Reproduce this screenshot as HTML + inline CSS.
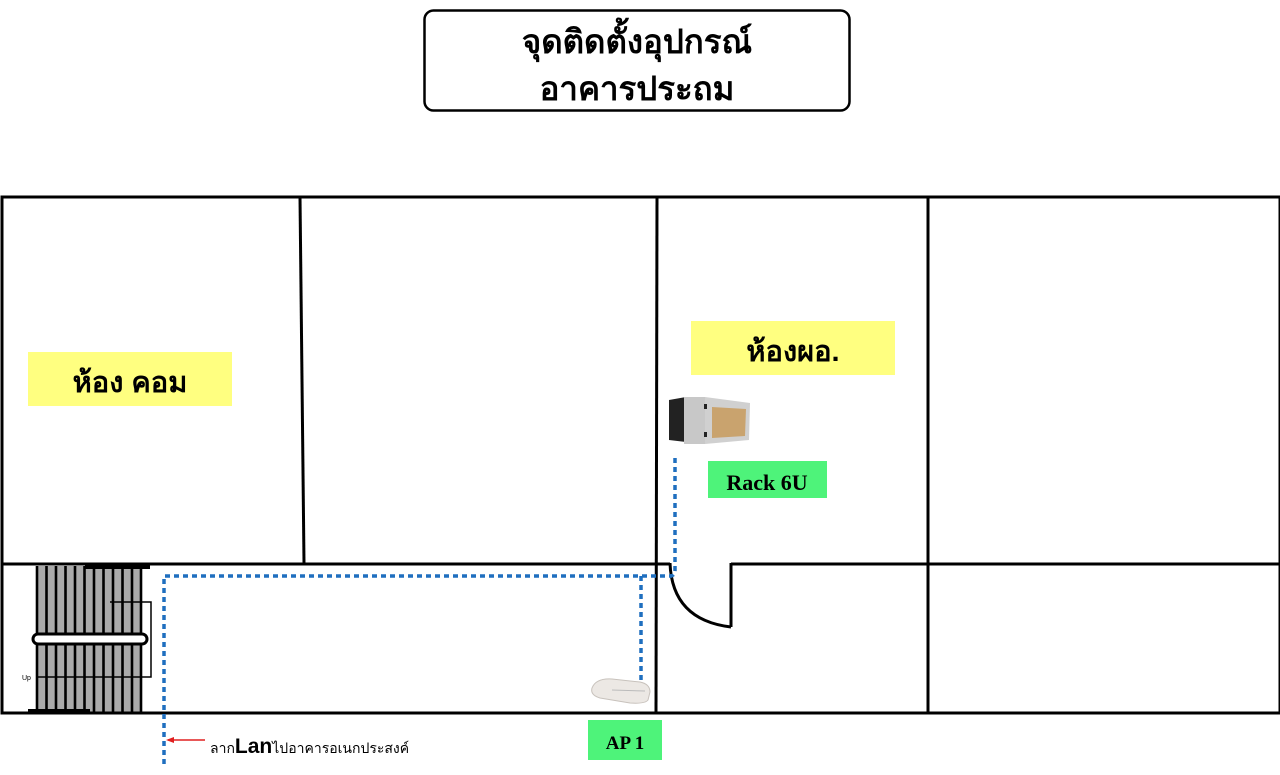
<!DOCTYPE html>
<html><head><meta charset="utf-8"><style>
html,body{margin:0;padding:0;background:#fff;width:1280px;height:775px;overflow:hidden}
svg{display:block}
text{font-family:"Liberation Sans","DejaVu Sans",sans-serif}
</style></head><body>
<svg width="1280" height="775" viewBox="0 0 1280 775" xmlns="http://www.w3.org/2000/svg">
<rect x="424.5" y="10.5" width="425" height="100" rx="9" fill="#fff" stroke="#000" stroke-width="2.5"/>
<text x="637" y="53" text-anchor="middle" font-size="33" font-weight="bold">จุดติดตั้งอุปกรณ์</text>
<text x="637" y="100" text-anchor="middle" font-size="33" font-weight="bold">อาคารประถม</text>

<!-- stairs -->
<g>
<rect x="37" y="566" width="104" height="146" fill="#aaa"/>
<g stroke="#000" stroke-width="2.6">
<line x1="37" y1="566" x2="37" y2="712"/><line x1="46.5" y1="566" x2="46.5" y2="712"/><line x1="56" y1="566" x2="56" y2="712"/><line x1="65.5" y1="566" x2="65.5" y2="712"/><line x1="75" y1="566" x2="75" y2="712"/><line x1="84.5" y1="566" x2="84.5" y2="712"/><line x1="94" y1="566" x2="94" y2="712"/><line x1="103.5" y1="566" x2="103.5" y2="712"/><line x1="113" y1="566" x2="113" y2="712"/><line x1="122.5" y1="566" x2="122.5" y2="712"/><line x1="132" y1="566" x2="132" y2="712"/><line x1="141" y1="566" x2="141" y2="712"/>
</g>
<rect x="33" y="634" width="114" height="10" rx="5" fill="#fff" stroke="#000" stroke-width="3"/>
<path d="M110 602 H151 V677 H37" fill="none" stroke="#000" stroke-width="1.5"/>
<path d="M85 567 H150" stroke="#000" stroke-width="4"/>
<path d="M28 711 H90" stroke="#000" stroke-width="4"/>
<text x="22" y="680" font-size="7">Up</text>
</g>

<!-- walls -->
<g stroke="#000" stroke-width="3" fill="none">
<rect x="2" y="197" width="1278" height="516"/>
<line x1="300" y1="197" x2="304" y2="563"/>
<line x1="657" y1="197" x2="656" y2="713"/>
<line x1="928" y1="197" x2="928" y2="713"/>
<line x1="2" y1="564" x2="670" y2="564"/>
<line x1="731" y1="564" x2="1280" y2="564"/>
<line x1="731" y1="563" x2="731" y2="627"/>
<path d="M670 563 Q672 620 731 627"/>
</g>

<!-- blue dotted cable -->
<g stroke="#1f6fbf" stroke-width="3.5" fill="none" stroke-dasharray="5,4">
<path d="M164 764 V576 H672"/>
<path d="M641 576 V680"/>
<path d="M675 458 V570 Q675 576 670 576"/>
</g>
<line x1="168" y1="740" x2="205" y2="740" stroke="#e02020" stroke-width="1.5"/>
<path d="M166 740 L174 737 L174 743 Z" fill="#e02020"/>
<text x="210" y="753" font-size="14">ลาก<tspan font-size="21" font-weight="bold">Lan</tspan>ไปอาคารอเนกประสงค์</text>

<!-- labels -->
<rect x="28" y="352" width="204" height="54" fill="#ffff80"/>
<text x="130" y="392" text-anchor="middle" font-size="29" font-weight="bold">ห้อง คอม</text>
<rect x="691" y="321" width="204" height="54" fill="#ffff80"/>
<text x="793" y="361" text-anchor="middle" font-size="29" font-weight="bold">ห้องผอ.</text>
<rect x="708" y="461" width="119" height="37" fill="#4ef37a"/>
<text x="767" y="490" text-anchor="middle" font-size="22" font-weight="bold" style="font-family:'Liberation Serif',serif">Rack 6U</text>
<rect x="588" y="720" width="74" height="40" fill="#4ef37a"/>
<text x="625" y="749" text-anchor="middle" font-size="19" font-weight="bold" style="font-family:'Liberation Serif',serif">AP 1</text>

<!-- rack -->
<polygon points="669,400 686,397 686,442 669,440" fill="#222"/>
<polygon points="684,397 705,397 705,444 684,444" fill="#c8c8c8"/>
<polygon points="705,397 750,403 749,440 705,444" fill="#d0d0d0"/>
<polygon points="712,407 746,409 745,436 712,438" fill="#c9a36e"/>
<rect x="704" y="404" width="3" height="5" fill="#222"/><rect x="704" y="432" width="3" height="5" fill="#222"/>

<!-- AP -->
<path d="M592 688 Q596 678 612 679 L640 682 Q650 684 650 692 L648 700 Q645 704 630 703 L600 698 Q590 695 592 688 Z" fill="#ece8e4" stroke="#c8c2bc" stroke-width="1"/>
<path d="M612 690 L645 691" stroke="#bbb" stroke-width="1"/>
</svg>
</body></html>
